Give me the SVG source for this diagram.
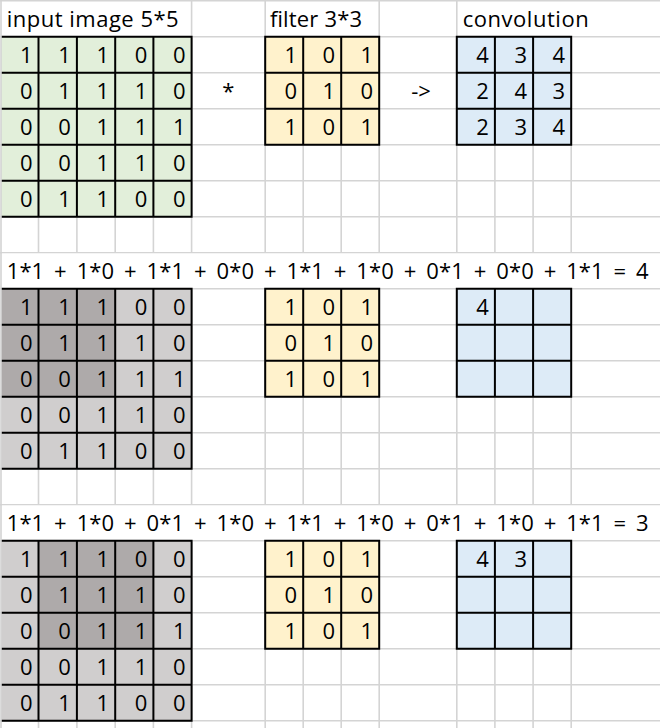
<svg xmlns="http://www.w3.org/2000/svg" width="660" height="728" viewBox="0 0 660 728">
<style>
text{font-family:"Open Sans","Noto Sans","DejaVu Sans",sans-serif;font-size:22px;fill:#000}
.v{text-anchor:end}
.c{text-anchor:middle}
.grid{stroke:#D4D4D4;stroke-width:1.6;fill:none}
.blk{stroke:#000;stroke-width:2;fill:none}
.green{fill:#E2EFDA}
.yellow{fill:#FFF2CC}
.blue{fill:#DDEBF7}
.lgray{fill:#D0CECE}
.dgray{fill:#AEAAAA}
.eq{word-spacing:4px}
</style>
<rect x="0" y="0" width="660" height="728" fill="#fff"/>
<g id="sheet-grid">
<path class="grid" d="M0 0.7H660M0 36.7H660M0 72.7H660M0 108.7H660M0 144.7H660M0 180.7H660M0 216.7H660M0 252.7H660M0 288.7H660M0 324.7H660M0 360.7H660M0 396.7H660M0 432.7H660M0 468.7H660M0 504.7H660M0 540.7H660M0 576.7H660M0 612.7H660M0 648.7H660M0 684.7H660M0 720.7H660
M191.6 0.7V36.7M265.2 0.7V36.7M379.2 0.7V36.7M456.8 0.7V36.7
M38.5 36.7V252.7M76.9 36.7V252.7M115.2 36.7V252.7M153.4 36.7V252.7M191.6 36.7V252.7M265.2 36.7V252.7M303.2 36.7V252.7M341.2 36.7V252.7M379.2 36.7V252.7M456.8 36.7V252.7M494.9 36.7V252.7M533.1 36.7V252.7M571.2 36.7V252.7
M38.5 288.7V504.7M76.9 288.7V504.7M115.2 288.7V504.7M153.4 288.7V504.7M191.6 288.7V504.7M265.2 288.7V504.7M303.2 288.7V504.7M341.2 288.7V504.7M379.2 288.7V504.7M456.8 288.7V504.7M494.9 288.7V504.7M533.1 288.7V504.7M571.2 288.7V504.7
M38.5 540.7V728M76.9 540.7V728M115.2 540.7V728M153.4 540.7V728M191.6 540.7V728M265.2 540.7V728M303.2 540.7V728M341.2 540.7V728M379.2 540.7V728M456.8 540.7V728M494.9 540.7V728M533.1 540.7V728M571.2 540.7V728"/>
</g>

<g id="headers">
<text x="6.7" y="27.3" textLength="172" lengthAdjust="spacing">input image 5*5</text>
<text x="270" y="27.3" textLength="92" lengthAdjust="spacing">filter 3*3</text>
<text x="462.7" y="27.3" textLength="126" lengthAdjust="spacing">convolution</text>
<text class="c" x="228.4" y="99.3">*</text>
<text class="c" x="421" y="99.3">-&gt;</text>
</g>

<g id="input-top">
<rect class="green" x="1" y="36.7" width="190.6" height="180"/>
<path class="blk" d="M1 36.7H191.6V216.7H1M1 72.7H191.6M1 108.7H191.6M1 144.7H191.6M1 180.7H191.6M38.5 36.7V216.7M76.9 36.7V216.7M115.2 36.7V216.7M153.4 36.7V216.7"/>
<text class="v" x="32.5 70.9 109.2 147.4 185.6" y="63.3">11100</text>
<text class="v" x="32.5 70.9 109.2 147.4 185.6" y="99.3">01110</text>
<text class="v" x="32.5 70.9 109.2 147.4 185.6" y="135.3">00111</text>
<text class="v" x="32.5 70.9 109.2 147.4 185.6" y="171.3">00110</text>
<text class="v" x="32.5 70.9 109.2 147.4 185.6" y="207.3">01100</text>
</g>

<g id="filter-top">
<rect class="yellow" x="265.2" y="36.7" width="114" height="108"/>
<path class="blk" d="M265.2 36.7H379.2V144.7H265.2ZM265.2 72.7H379.2M265.2 108.7H379.2M303.2 36.7V144.7M341.2 36.7V144.7"/>
<text class="v" x="297.2 335.2 373.2" y="63.3">101</text>
<text class="v" x="297.2 335.2 373.2" y="99.3">010</text>
<text class="v" x="297.2 335.2 373.2" y="135.3">101</text>
</g>

<g id="conv-top">
<rect class="blue" x="456.8" y="36.7" width="114.4" height="108"/>
<path class="blk" d="M456.8 36.7H571.2V144.7H456.8ZM456.8 72.7H571.2M456.8 108.7H571.2M494.9 36.7V144.7M533.1 36.7V144.7"/>
<text class="v" x="488.9 527.1 565.2" y="63.3">434</text>
<text class="v" x="488.9 527.1 565.2" y="99.3">243</text>
<text class="v" x="488.9 527.1 565.2" y="135.3">234</text>
</g>

<g id="equation-1">
<rect x="2" y="253.5" width="658" height="34.4" fill="#fff"/>
<text class="eq" x="6.7" y="279.3" textLength="642" lengthAdjust="spacing">1*1 + 1*0 + 1*1 + 0*0 + 1*1 + 1*0 + 0*1 + 0*0 + 1*1 = 4</text>
</g>

<g id="input-step1">
<rect class="lgray" x="1" y="288.7" width="190.6" height="180"/>
<rect class="dgray" x="1" y="288.7" width="114.2" height="108"/>
<path class="blk" d="M1 288.7H191.6V468.7H1M1 324.7H191.6M1 360.7H191.6M1 396.7H191.6M1 432.7H191.6M38.5 288.7V468.7M76.9 288.7V468.7M115.2 288.7V468.7M153.4 288.7V468.7"/>
<text class="v" x="32.5 70.9 109.2 147.4 185.6" y="315.3">11100</text>
<text class="v" x="32.5 70.9 109.2 147.4 185.6" y="351.3">01110</text>
<text class="v" x="32.5 70.9 109.2 147.4 185.6" y="387.3">00111</text>
<text class="v" x="32.5 70.9 109.2 147.4 185.6" y="423.3">00110</text>
<text class="v" x="32.5 70.9 109.2 147.4 185.6" y="459.3">01100</text>
</g>

<g id="filter-step1">
<rect class="yellow" x="265.2" y="288.7" width="114" height="108"/>
<path class="blk" d="M265.2 288.7H379.2V396.7H265.2ZM265.2 324.7H379.2M265.2 360.7H379.2M303.2 288.7V396.7M341.2 288.7V396.7"/>
<text class="v" x="297.2 335.2 373.2" y="315.3">101</text>
<text class="v" x="297.2 335.2 373.2" y="351.3">010</text>
<text class="v" x="297.2 335.2 373.2" y="387.3">101</text>
</g>

<g id="conv-step1">
<rect class="blue" x="456.8" y="288.7" width="114.4" height="108"/>
<path class="blk" d="M456.8 288.7H571.2V396.7H456.8ZM456.8 324.7H571.2M456.8 360.7H571.2M494.9 288.7V396.7M533.1 288.7V396.7"/>
<text class="v" x="488.9" y="315.3">4</text>
</g>

<g id="equation-2">
<rect x="2" y="505.5" width="658" height="34.4" fill="#fff"/>
<text class="eq" x="6.7" y="531.3" textLength="642" lengthAdjust="spacing">1*1 + 1*0 + 0*1 + 1*0 + 1*1 + 1*0 + 0*1 + 1*0 + 1*1 = 3</text>
</g>

<g id="input-step2">
<rect class="lgray" x="1" y="540.7" width="190.6" height="180"/>
<rect class="dgray" x="38.5" y="540.7" width="114.9" height="108"/>
<path class="blk" d="M1 540.7H191.6V720.7H1M1 576.7H191.6M1 612.7H191.6M1 648.7H191.6M1 684.7H191.6M38.5 540.7V720.7M76.9 540.7V720.7M115.2 540.7V720.7M153.4 540.7V720.7"/>
<text class="v" x="32.5 70.9 109.2 147.4 185.6" y="567.3">11100</text>
<text class="v" x="32.5 70.9 109.2 147.4 185.6" y="603.3">01110</text>
<text class="v" x="32.5 70.9 109.2 147.4 185.6" y="639.3">00111</text>
<text class="v" x="32.5 70.9 109.2 147.4 185.6" y="675.3">00110</text>
<text class="v" x="32.5 70.9 109.2 147.4 185.6" y="711.3">01100</text>
</g>

<g id="filter-step2">
<rect class="yellow" x="265.2" y="540.7" width="114" height="108"/>
<path class="blk" d="M265.2 540.7H379.2V648.7H265.2ZM265.2 576.7H379.2M265.2 612.7H379.2M303.2 540.7V648.7M341.2 540.7V648.7"/>
<text class="v" x="297.2 335.2 373.2" y="567.3">101</text>
<text class="v" x="297.2 335.2 373.2" y="603.3">010</text>
<text class="v" x="297.2 335.2 373.2" y="639.3">101</text>
</g>

<g id="conv-step2">
<rect class="blue" x="456.8" y="540.7" width="114.4" height="108"/>
<path class="blk" d="M456.8 540.7H571.2V648.7H456.8ZM456.8 576.7H571.2M456.8 612.7H571.2M494.9 540.7V648.7M533.1 540.7V648.7"/>
<text class="v" x="488.9 527.1" y="567.3">43</text>
</g>

<g id="sheet-edge">
<path class="grid" stroke-width="2" d="M1 0V728"/>
</g>
</svg>
